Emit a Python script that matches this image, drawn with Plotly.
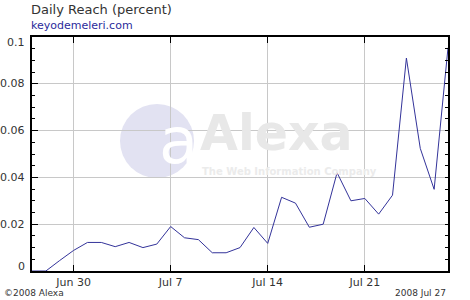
import plotly.graph_objects as go
import pandas as pd

dates = pd.date_range("2008-06-27", "2008-07-27", freq="D").strftime("%Y-%m-%d").tolist()
reach = [0.0, 0.0, 0.0045, 0.0088, 0.0122, 0.0122, 0.0104, 0.0122, 0.0100, 0.0115,
         0.0190, 0.0142, 0.0134, 0.0078, 0.0078, 0.0100, 0.0186, 0.0118, 0.0315, 0.0290,
         0.0187, 0.0200, 0.0420, 0.0300, 0.0310, 0.0243, 0.0324, 0.0910, 0.0524, 0.0349,
         0.0954]
x_tick_vals = ["2008-06-30", "2008-07-07", "2008-07-14", "2008-07-21"]
x_tick_text = ["Jun 30", "Jul 7", "Jul 14", "Jul 21"]
y_tick_vals = [0, 0.02, 0.04, 0.06, 0.08, 0.1]
y_tick_text = ["0", "0.02", "0.04", "0.06", "0.08", "0.1"]

FONT = "DejaVu Sans"
TXT = "#333333"

fig = go.Figure()
fig.add_trace(go.Scatter(x=dates, y=reach, mode="lines",
                         line=dict(color="#33339a", width=1), hoverinfo="skip",
                         showlegend=False))
fig.add_trace(go.Scatter(x=[dates[0]], y=[0], yaxis="y2", mode="markers",
                         marker=dict(opacity=0), showlegend=False, hoverinfo="skip"))


def px(xp):
    return (xp - 32) / 416


def py(yp):
    return (271 - yp) / 234


# watermark
fig.add_shape(type="circle", xref="paper", yref="paper",
              x0=px(120), x1=px(194), y0=py(178), y1=py(104),
              fillcolor="#e2e2f2", line=dict(width=0), layer="below")
fig.add_annotation(x=px(157), y=py(141), xref="paper", yref="paper",
                   text="a", showarrow=False,
                   font=dict(family=FONT, size=64, color="#ffffff"))
fig.add_annotation(x=px(198), y=py(133), xref="paper", yref="paper",
                   xanchor="left", yanchor="middle", text="<b>Alexa</b>", showarrow=False,
                   font=dict(family=FONT, size=49, color="#e8e8e8"))
fig.add_annotation(x=px(200), y=py(171), xref="paper", yref="paper",
                   xanchor="left", yanchor="middle", text="<b>The Web Information Company</b>",
                   showarrow=False, font=dict(family=FONT, size=10, color="#ebebeb"))

# y tick labels (end labels nudged inward as in the original)
offsets = {0: 5, 0.1: -5}
for v, t in zip(y_tick_vals, y_tick_text):
    fig.add_annotation(x=0, y=v, xref="paper", yref="y", xanchor="right",
                       xshift=-5, yshift=offsets.get(v, 0), text=t, showarrow=False,
                       font=dict(family=FONT, size=11, color=TXT))

# titles / footers
for txt, xp, yp, anc, size, col in [
    ("Daily Reach (percent)", 29, 10, "left", 13, TXT),
    ("keyodemeleri.com", 29, 26, "left", 11, "#2b2b9b"),
    ("©2008 Alexa", 2, 293, "left", 9, TXT),
    ("2008 Jul 27", 448, 293, "right", 9, TXT),
]:
    fig.add_annotation(x=px(xp), y=py(yp), xref="paper", yref="paper",
                       xanchor=anc, yanchor="middle", text=txt, showarrow=False,
                       font=dict(family=FONT, size=size, color=col))

fig.update_layout(
    width=470, height=300,
    margin=dict(l=32, r=22, t=37, b=29),
    paper_bgcolor="white", plot_bgcolor="white",
    xaxis=dict(type="date", range=[dates[0], dates[-1]],
               tickvals=x_tick_vals, ticktext=x_tick_text,
               ticks="inside", ticklen=6, tickcolor="black", tickwidth=1,
               showline=True, linecolor="black", linewidth=1.5, mirror="ticks",
               showgrid=True, gridcolor="#c8c8c8", gridwidth=1, zeroline=False,
               tickfont=dict(family=FONT, size=11, color=TXT)),
    yaxis=dict(range=[0, 0.1], tickvals=y_tick_vals, showticklabels=False,
               ticks="inside", ticklen=6, tickcolor="black",
               showline=True, linecolor="black", linewidth=1.5, mirror=True,
               showgrid=True, gridcolor="#c8c8c8", gridwidth=1, zeroline=False,
               minor=dict(dtick=0.005, ticks="inside", ticklen=3, tickcolor="black",
                          showgrid=False)),
    yaxis2=dict(range=[0, 0.1], overlaying="y", side="right", dtick=0.005,
                showticklabels=False, ticks="inside", ticklen=3, tickcolor="black",
                showgrid=False, zeroline=False, showline=False),
)

fig.write_html("out.html")
